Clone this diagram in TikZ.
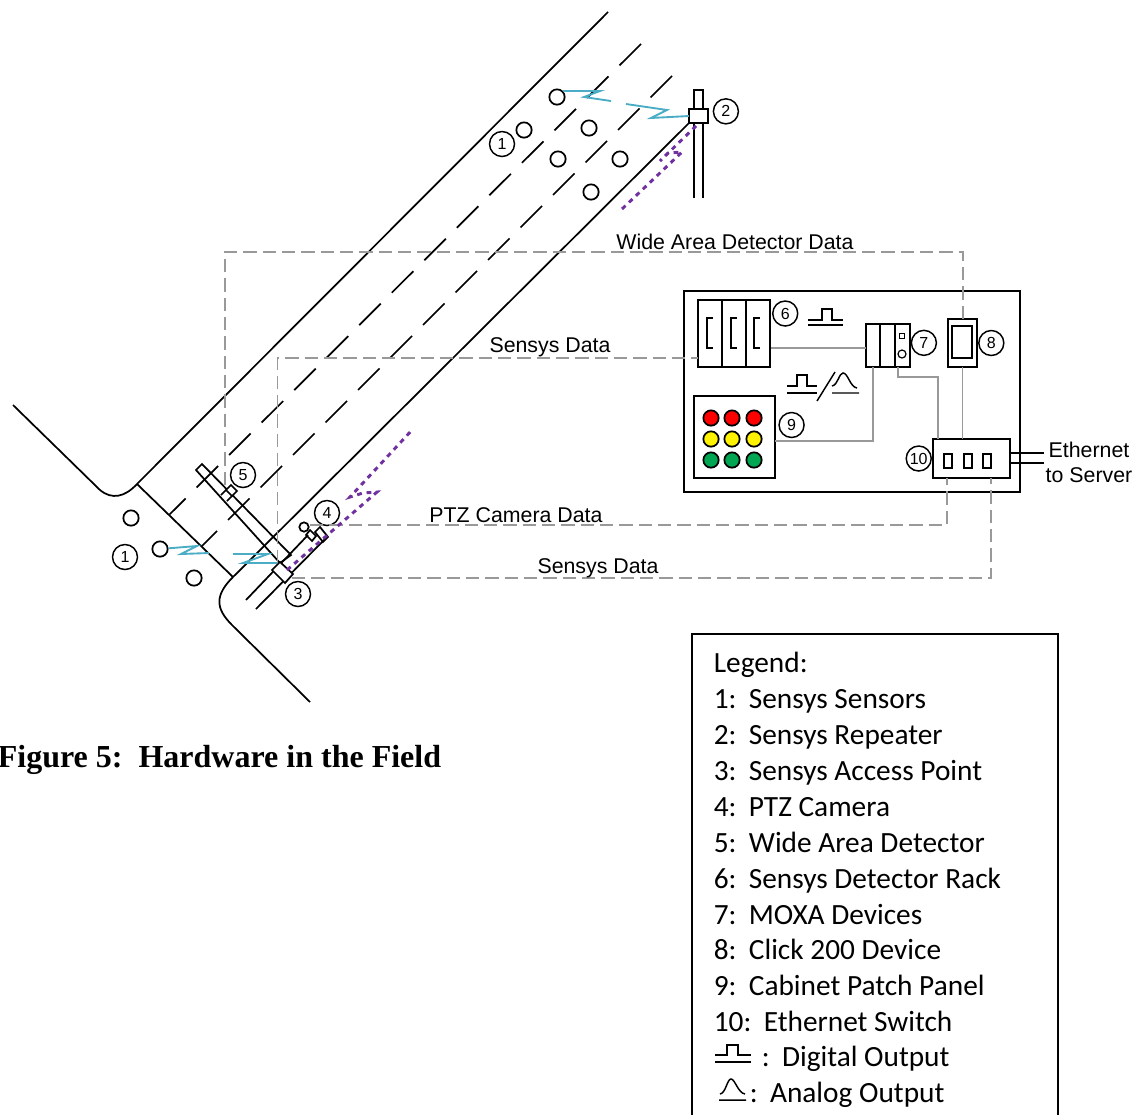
\documentclass[tikz,border=0pt]{standalone}
\usepackage{fontspec}
\setmainfont{Liberation Sans}
\newfontfamily\legendfont{Carlito}
\newfontfamily\titlefont{Liberation Serif}
\usetikzlibrary{positioning}
\definecolor{wirelessblue}{HTML}{4BACC6}
\definecolor{radarpurple}{HTML}{7030A0}
\definecolor{lampgreen}{HTML}{00A651}
\begin{document}
\begin{tikzpicture}[
x=0.75pt,y=-0.75pt,
line width=1.3pt,
tag/.style={draw,circle,line width=1.1pt,inner sep=0pt,minimum size=18.75pt,font=\fontsize{12}{14}\selectfont},
sensor/.style={draw,circle,inner sep=0pt,minimum size=11.5pt},
unit/.style={draw,inner sep=0pt,outer sep=0pt,fill=white},
lamp/.style={draw,circle,inner sep=0pt,minimum size=11.5pt},
caption/.style={inner sep=0pt,font=\fontsize{16}{18.75}\selectfont},
legendrow/.style={anchor=base west,inner sep=0pt,font=\legendfont\fontsize{22}{26}\selectfont},
lane/.style={dash pattern=on 22.8pt off 11.67pt},
wire/.style={draw=black!40,line width=1.4pt},
datalink/.style={draw=black!40,line width=1.4pt,dash pattern=on 10pt off 4.5pt},
wireless/.style={draw=wirelessblue,line width=1.4pt},
radar/.style={draw=radarpurple,line width=2.2pt,dash pattern=on 3.6pt off 3.6pt}
]
\useasboundingbox (0,0) rectangle (1138,1115);
% road
\draw (608,12) -- (137,484) .. controls (125,497) and (112,500) .. (100,490) -- (13,405);
\draw (689,123) -- (233,577) .. controls (215,595) and (215,608) .. (232,625) -- (310,702);
\draw (137,484) -- (233,577);
\draw[lane] (641,44) -- (169.5,514.5);
\draw[lane] (672,76) -- (201.5,546.5);
% sensors
\foreach \nm/\px/\py in {sa/557/97,sb/524/130,sc/589/128,sd/558/159,se/620/159,sf/591/192,sg/131/518,sh/160/549,si/194/578}
  \node[sensor] (\nm) at (\px,\py) {};
\node[tag] (tagonea) at (502,144) {1};
\node[tag] (tagoneb) at (125,557) {1};
% repeater
\node[unit,minimum width=6.75pt,minimum height=15pt] (reppole) at (698.5,100) {};
\node[unit,minimum width=14.25pt,minimum height=10.5pt] (rep) at (698.5,116) {};
\coordinate (polea) at (694,198);
\coordinate (poleb) at (703,198);
\draw (rep.south -| polea) -- (polea);
\draw (rep.south -| poleb) -- (poleb);
\node[tag,right=3.5pt of rep,yshift=3.5pt] (tagtwo) {2};
% wide area detector
\draw (196,470) -- (202,464) -- (291,555) -- (280,563) -- cycle;
\draw[fill=white] (226,490) -- (231,485) -- (237,491) -- (232,496) -- cycle;
\draw (221,495) -- (226,490) (227,501) -- (232,496);
\node[tag] (tagfive) at (243,475) {5};
% access point and camera
\draw (246,600) -- (308,535);
\draw (256,609) -- (327,537);
\draw[fill=white] (272,570) -- (280,562) -- (293,574) -- (285,583) -- cycle;
\node[draw,circle,inner sep=0pt,minimum size=7pt] (ptzball) at (304,527) {};
\draw (306,535) -- (310,530) -- (316,536) -- (312,541) -- cycle;
\draw (315,532) -- (320,527) -- (328,537) -- (323,542) -- cycle;
\node[tag] (tagthree) at (298,594) {3};
\node[tag] (tagfour) at (327,513) {4};
% cabinet
\node[draw,line width=1.6pt,inner sep=0pt,minimum width=252pt,minimum height=150.75pt] (cabinet) at (852,391.5) {};
\node[unit,minimum width=18pt,minimum height=50.25pt] (racka) at (710,333.5) {};
\node[unit,minimum width=18pt,minimum height=50.25pt,right=0pt of racka] (rackb) {};
\node[unit,minimum width=18pt,minimum height=50.25pt,right=0pt of rackb] (rackc) {};
\foreach \bx in {707,731,754}
  \draw (\bx+6,318) -- (\bx,318) -- (\bx,348) -- (\bx+6,348);
\node[tag,right=1.5pt of rackc,yshift=15pt] (tagsix) {6};
\node[unit,minimum width=10.5pt,minimum height=32.25pt] (moxaa) at (873,345.5) {};
\node[unit,minimum width=11.25pt,minimum height=32.25pt,right=0pt of moxaa] (moxab) {};
\node[unit,minimum width=11.25pt,minimum height=32.25pt,right=0pt of moxab] (moxac) {};
\node[draw,inner sep=0pt,minimum size=4pt,line width=.9pt] (moxaled) at (902,336) {};
\node[draw,circle,inner sep=0pt,minimum size=6pt,line width=.9pt] (moxaport) at (902,354) {};
\node[tag,right=0.5pt of moxac,yshift=2pt] (tagseven) {7};
\node[unit,minimum width=21.75pt,minimum height=36pt] (click) at (962.5,343) {};
\node[draw,inner sep=0pt,minimum width=15pt,minimum height=24pt] (clickface) at (962,342) {};
\node[tag,right=0.8pt of click] (tageight) {8};
\node[unit,minimum width=60.75pt,minimum height=61.5pt] (panel) at (734.5,437) {};
\foreach \lc/\ly in {red/418,yellow/439,lampgreen/460}
  \foreach \lx in {711,732,754}
    \node[lamp,fill=\lc] (lamp\lx\ly) at (\lx,\ly) {};
\node[tag,right=2.5pt of panel,yshift=9pt] (tagnine) {9};
\node[unit,minimum width=57.75pt,minimum height=29.25pt] (switch) at (971.5,458.5) {};
\foreach \sx in {948,968,987}
  \node[draw,inner sep=0pt,minimum width=6pt,minimum height=10.5pt] (slot\sx) at (\sx,461) {};
\node[tag,left=0.8pt of switch] (tagten) {10};
% wires in the cabinet
\coordinate (rackout) at (771,348);
\coordinate (moxaout) at (898,367);
\coordinate (panelout) at (775,441);
\draw[wire] (rackout) -- (rackout -| moxaa.west);
\draw[wire] (panelout) -| (moxaa.south);
\draw[wire] (moxaout) |- (938,377) -- (938,439);
\draw[wire] (click.south) -- (click.south |- switch.north);
\coordinate (etha) at (1044,453);
\coordinate (ethb) at (1044,463);
\draw (etha -| switch.east) -- (etha);
\draw (ethb -| switch.east) -- (ethb);
\node[caption,align=center] (ethernet) at (1089,462.5) {Ethernet\\to Server};
% pulse marks
\draw[line width=1.1pt] (808,320) -- (822,320) -- (822,309) -- (832,309) -- (832,320) -- (843,320) (808,325) -- (843,325);
\draw[line width=1.1pt] (787,386) -- (797,386) -- (797,375) -- (807,375) -- (807,386) -- (817,386) (787,393) -- (817,393);
\draw[line width=1.1pt] (835,372) -- (817,401);
\draw[line width=1.1pt] (832,386) .. controls (838,385) and (839,373) .. (843,373) .. controls (848,373) and (850,387) .. (857,388) (832,393) -- (859,393);
% data links
\coordinate (wadout) at (225,485);
\coordinate (apout) at (277.5,563);
\coordinate (rackin) at (698,358);
\coordinate (ptzout) at (310,525);
\coordinate (ptzin) at (947,478);
\coordinate (apoutb) at (292,578);
\coordinate (apin) at (991,478);
\coordinate (clickin) at (963,319);
\draw[datalink] (wadout) |- (clickin |- 0,252) -- (clickin);
\draw[datalink] (apout) |- (rackin);
\draw[datalink] (ptzout) -| (ptzin);
\draw[datalink] (apoutb) -| (apin);
\node[caption] (widelbl) at (735,242) {Wide Area Detector Data};
\node[caption] (senslbla) at (550,347) {Sensys Data};
\node[caption] (ptzlbl) at (516,515) {PTZ Camera Data};
\node[caption] (senslblb) at (598,568) {Sensys Data};
% wireless
\draw[wireless] (sa.north east) -- (600,91) -- (584,97) -- (611,101);
\draw[wireless] (626,104) -- (667,110) -- (651,118) -- (rep.west);
\draw[wireless] (sh) -- (197,546) -- (181,554) -- (209,553);
\draw[wireless] (233,554) -- (268,554) -- (243,563) -- (277,563);
% radar
\draw[radar] (622,209) -- (682,152) -- (668,153) -- (660,161) -- (697,125);
\draw[radar] (287,570) -- (377,492) -- (363,493) -- (350,497) -- (412,430);
% legend
\draw (692,1115) -- (692,634) -- (1058,634) -- (1058,1115);
\node[legendrow] (legtitle) at (713,672.7) {Legend:};
\foreach \txt [count=\i] in {1:\hspace{.42em}Sensys Sensors,2:\hspace{.42em}Sensys Repeater,3:\hspace{.42em}Sensys Access Point,4:\hspace{.42em}PTZ Camera,5:\hspace{.42em}Wide Area Detector,6:\hspace{.42em}Sensys Detector Rack,7:\hspace{.42em}MOXA Devices,8:\hspace{.42em}Click 200 Device,9:\hspace{.42em}Cabinet Patch Panel,10:\hspace{.42em}Ethernet Switch}
  \node[legendrow] (leg\i) at (713,672.7+35.9*\i) {\txt};
\draw[line width=1.1pt] (715,1055) -- (727,1055) -- (727,1045) -- (738,1045) -- (738,1055) -- (751,1055) (715,1062) -- (751,1062);
\node[legendrow] (legdigital) at (761,1066.5) {:\hspace{.42em}Digital Output};
\draw[line width=1.1pt] (720,1094) .. controls (726,1093) and (727,1079) .. (731,1079) .. controls (735,1079) and (738,1093) .. (745,1094) (719,1100) -- (746,1100);
\node[legendrow] (leganalog) at (749,1102.5) {:\hspace{.42em}Analog Output};
% title
\node[anchor=west,inner sep=0pt,font=\titlefont\bfseries\fontsize{24}{28}\selectfont] (title) at (-3,760) {Figure 5:\enspace Hardware in the Field};
\end{tikzpicture}
\end{document}
